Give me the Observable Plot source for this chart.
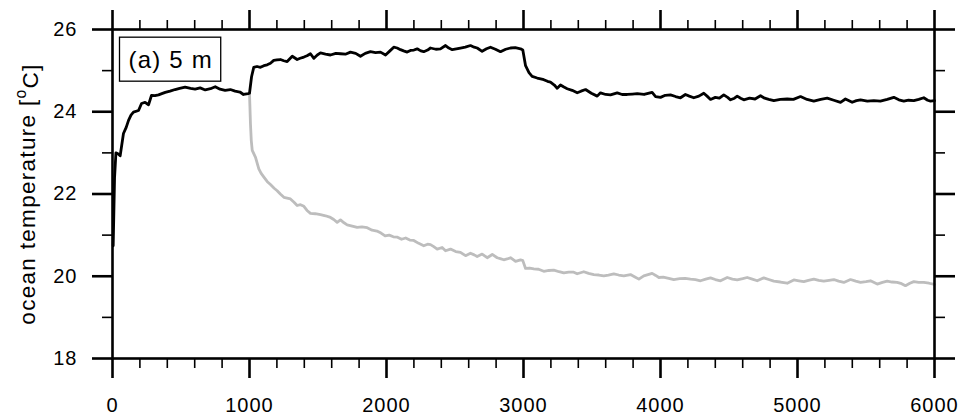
<!DOCTYPE html>
<html><head><meta charset="utf-8">
<script src="https://cdn.jsdelivr.net/npm/d3@7"></script>
<script src="https://cdn.jsdelivr.net/npm/@observablehq/plot@0.6"></script>
<style>
body{margin:0;background:#fff}
svg{font-family:"Liberation Sans",Arial,Helvetica,sans-serif}
.xt text,.yt text{letter-spacing:1px}
.panel text{letter-spacing:1.2px}
.ylabel text{letter-spacing:1.3px}
</style>
</head><body><div id="chart"></div>
<script>
// tick values
const xMajor = [0, 1000, 2000, 3000, 4000, 5000, 6000];
const xMinor = [200, 400, 600, 800, 1200, 1400, 1600, 1800, 2200, 2400, 2600, 2800, 3200, 3400, 3600, 3800, 4200, 4400, 4600, 4800, 5200, 5400, 5600, 5800];
const yMajor = [18, 20, 22, 24, 26];
const yMinor = [19, 21, 23, 25];
const yLabel = "ocean temperature [oC]";
const panelLabel = "(a) 5 m";

// black series (control + warm phase)
const blackYears = [5,15,25,40,56,80,100,117,135,153,190,212,238,263,285,310,336,360,385,420,457,490,530,570,603,640,677,715,750,785,822,860,895,930,956,990,
1000,1015,1031,1055,1080,1105,1129,1153,1177,1200,1226,1250,1275,1312,1348,1370,1397,1420,1445,1470,1495,1518,1555,1591,1630,1664,1700,1737,1775,1810,1845,1883,1920,1956,1993,
2025,2053,2078,2102,2125,2151,2175,2200,2224,2250,2272,2300,2321,2360,2394,2431,2455,2480,2510,2540,2575,2613,2640,2662,2698,2730,2759,2795,2832,2870,2905,2940,2978,2995,
3015,3040,3063,3100,3125,3148,3175,3197,3225,3246,3270,3295,3319,3355,3392,3420,3453,3495,3538,3562,3600,3635,3684,3720,3757,3795,3830,3880,3939,3964,
4000,4035,4073,4110,4146,4182,4210,4243,4280,4316,4340,4365,4400,4430,4462,4490,4511,4540,4560,4585,4608,4650,4690,4730,4760,4790,4827,4875,4925,4970,
5022,5070,5119,5170,5217,5265,5314,5350,5399,5430,5460,5510,5557,5605,5655,5703,5740,5776,5810,5849,5885,5922,5950,5971,6000];
const blackTemps = [20.74,22.4,23.0,22.98,22.93,23.47,23.62,23.79,23.92,23.99,24.03,24.2,24.23,24.17,24.4,24.39,24.41,24.44,24.47,24.5,24.54,24.57,24.6,24.57,24.55,24.58,24.53,24.56,24.61,24.55,24.52,24.54,24.5,24.48,24.42,24.44,
24.45,24.85,25.08,25.1,25.08,25.12,25.14,25.18,25.25,25.26,25.27,25.24,25.22,25.35,25.27,25.3,25.33,25.36,25.41,25.30,25.38,25.43,25.4,25.38,25.42,25.41,25.4,25.45,25.42,25.35,25.42,25.46,25.44,25.45,25.38,
25.48,25.57,25.55,25.51,25.48,25.45,25.49,25.5,25.53,25.48,25.46,25.5,25.55,25.52,25.53,25.61,25.55,25.51,25.53,25.55,25.57,25.61,25.57,25.55,25.47,25.53,25.57,25.52,25.46,25.52,25.55,25.56,25.53,25.5,
25.12,24.95,24.86,24.82,24.8,24.78,24.74,24.72,24.65,24.57,24.65,24.6,24.56,24.52,24.46,24.5,24.54,24.45,24.38,24.46,24.42,24.41,24.46,24.42,24.42,24.43,24.44,24.42,24.47,24.37,
24.35,24.4,24.41,24.37,24.34,24.42,24.38,24.34,24.38,24.45,24.38,24.30,24.35,24.33,24.41,24.35,24.29,24.33,24.38,24.33,24.29,24.33,24.31,24.39,24.33,24.3,24.27,24.3,24.31,24.3,
24.37,24.3,24.26,24.3,24.33,24.28,24.23,24.31,24.23,24.27,24.29,24.26,24.27,24.26,24.3,24.35,24.29,24.26,24.28,24.27,24.3,24.34,24.28,24.26,24.27];

// grey series (cold branch)
const greyYears = [1000,1007,1013,1020,1044,1068,1085,1105,1130,1153,1180,1202,1225,1251,1275,1299,1325,1348,1372,1397,1420,1445,1480,1518,1555,1591,1615,1640,1664,1690,1713,1750,1786,1820,1859,1895,1930,1960,1990,
2020,2050,2080,2110,2140,2170,2199,2235,2272,2300,2321,2345,2370,2406,2431,2467,2505,2540,2577,2613,2640,2662,2698,2735,2772,2808,2830,2856,2880,2905,2942,2978,2995,
3015,3045,3075,3110,3148,3185,3221,3260,3294,3330,3367,3392,3440,3475,3513,3550,3586,3620,3659,3695,3732,3781,3810,3842,3878,3939,3965,3988,
4020,4060,4097,4140,4180,4219,4255,4292,4330,4365,4400,4438,4487,4525,4560,4600,4633,4670,4706,4754,4790,4827,4875,4925,4973,
5010,5046,5080,5119,5155,5192,5230,5265,5300,5338,5387,5425,5460,5500,5533,5582,5620,5655,5690,5727,5760,5788,5820,5849,5885,5922,5960,6000];
const greyTemps = [24.45,23.71,23.3,23.06,22.89,22.61,22.5,22.41,22.3,22.23,22.14,22.08,22.0,21.92,21.9,21.88,21.8,21.72,21.74,21.7,21.6,21.53,21.52,21.50,21.47,21.43,21.38,21.31,21.37,21.3,21.25,21.22,21.19,21.2,21.18,21.12,21.1,21.05,20.98,
21.0,20.96,20.95,20.9,20.93,20.88,20.87,20.8,20.74,20.78,20.77,20.72,20.66,20.70,20.62,20.66,20.6,20.58,20.50,20.56,20.52,20.48,20.54,20.45,20.53,20.45,20.43,20.40,20.42,20.45,20.36,20.40,20.38,
20.19,20.2,20.18,20.17,20.12,20.14,20.15,20.11,20.08,20.1,20.10,20.06,20.11,20.07,20.04,20.03,20.01,20.03,20.06,20.03,20.01,20.04,19.99,19.93,20.01,20.07,20.02,19.97,
19.98,19.95,19.92,19.94,19.95,19.93,19.92,19.89,19.93,19.96,19.92,19.89,19.97,19.93,19.91,19.94,19.97,19.93,19.89,19.96,19.92,19.88,19.86,19.83,19.91,
19.89,19.87,19.9,19.93,19.9,19.88,19.9,19.92,19.88,19.85,19.92,19.88,19.85,19.87,19.89,19.81,19.85,19.88,19.86,19.85,19.82,19.77,19.83,19.87,19.85,19.85,19.83,19.8];

const black = blackYears.map((x, i) => ({year: x, temp: blackTemps[i]}));
const grey = greyYears.map((x, i) => ({year: x, temp: greyTemps[i]}));
const blank = () => "";
const plain = (d) => String(d);

const chart = Plot.plot({
  width: 961, height: 417,
  marginLeft: 112, marginRight: 27, marginTop: 29, marginBottom: 59,
  style: {fontFamily: '"Liberation Sans", Arial, sans-serif', fontSize: "20px", background: "#fff", color: "#000"},
  x: {domain: [0, 6000], label: null},
  y: {domain: [18, 26], label: null},
  marks: [
    Plot.line(grey, {x: "year", y: "temp", stroke: "#bdbdbd", strokeWidth: 2.8, curve: "linear"}),
    Plot.line(black, {x: "year", y: "temp", stroke: "#000", strokeWidth: 2.8, curve: "linear"}),
    Plot.frame({stroke: "#000", strokeWidth: 2.6}),
    Plot.axisX({anchor: "bottom", ticks: xMajor, tickSize: 20, tickPadding: 19, strokeWidth: 2.6, label: null, fontSize: 20, tickFormat: plain, className: "xt"}),
    Plot.axisX({anchor: "bottom", ticks: xMinor, tickSize: 10, strokeWidth: 1.6, label: null, tickFormat: blank}),
    Plot.axisX({anchor: "top", ticks: xMajor, tickSize: 20, strokeWidth: 2.6, label: null, tickFormat: blank}),
    Plot.axisX({anchor: "top", ticks: xMinor, tickSize: 10, strokeWidth: 1.6, label: null, tickFormat: blank}),
    Plot.axisY({anchor: "left", ticks: yMajor, tickSize: 20, tickPadding: 15, strokeWidth: 2.6, label: null, fontSize: 20, tickFormat: plain, className: "yt"}),
    Plot.axisY({anchor: "left", ticks: yMinor, tickSize: 10, strokeWidth: 1.6, label: null, tickFormat: blank}),
    Plot.axisY({anchor: "right", ticks: yMajor, tickSize: 20, strokeWidth: 2.6, label: null, tickFormat: blank}),
    Plot.axisY({anchor: "right", ticks: yMinor, tickSize: 10, strokeWidth: 1.6, label: null, tickFormat: blank}),
    Plot.text([yLabel], {frameAnchor: "left", rotate: -90, dx: -85, fontSize: 22.5, textAnchor: "middle", lineAnchor: "middle", className: "ylabel"}),
    Plot.text([panelLabel], {frameAnchor: "top-left", dx: 16, dy: 30.5, textAnchor: "start", lineAnchor: "middle", fontSize: 24, className: "panel"})
  ]
});
document.getElementById("chart").appendChild(chart);

// superscript "o" in the axis label
const yl = d3.select(chart).select(".ylabel text");
yl.text(null);
yl.append("tspan").text("ocean temperature [");
yl.append("tspan").attr("dy", "-0.55em").attr("font-size", "0.7em").text("o");
yl.append("tspan").attr("dy", "0.55em").text("C]");

// box around the panel label
const pt = d3.select(chart).select(".panel text");
const bb = pt.node().getBBox();
const g = d3.select(pt.node().parentNode);
const tr = pt.attr("transform");
g.insert("rect", "text")
  .attr("transform", tr)
  .attr("x", bb.x - 9).attr("y", bb.y - 8.5)
  .attr("width", bb.width + 18 - 1.2).attr("height", bb.height + 17)
  .attr("fill", "#fff").attr("stroke", "#000").attr("stroke-width", 1.3);
</script></body></html>
